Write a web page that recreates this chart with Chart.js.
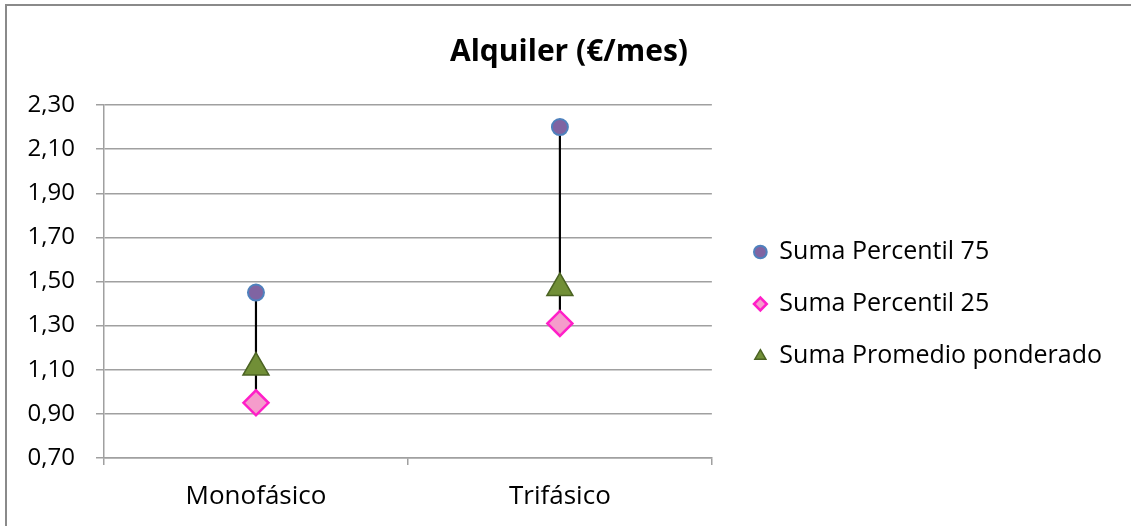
<!DOCTYPE html>
<html>
<head>
<meta charset="utf-8">
<script src="https://cdn.jsdelivr.net/npm/chart.js@4.4.0/dist/chart.umd.min.js"></script>
<style>
  html, body { margin: 0; padding: 0; background: #ffffff; }
  #wrap { position: relative; width: 1131px; height: 526px; overflow: hidden; }
  #frame { position: absolute; left: 5px; top: 4px; right: -10px; bottom: -10px;
           border-top: 2px solid #8a8a8a; border-left: 2px solid #8a8a8a; pointer-events: none; }
  canvas { position: absolute; left: 0; top: 0; }
</style>
</head>
<body>
<div id="wrap">
  <canvas id="chart" width="1131" height="526"></canvas>
  <div id="frame"></div>
</div>
<script>
// Categories and series values
const categories = ['Monofásico', 'Trifásico'];
const percentil75 = [1.45, 2.20];
const percentil25 = [0.95, 1.31];
const promedioPonderado = [1.11, 1.47];

// Y axis tick range
const yMin = 0.70;
const yMax = 2.30;
const yStep = 0.20;

const seriesNames = ['Suma Percentil 75', 'Suma Percentil 25', 'Suma Promedio ponderado'];

const FONT = '"Open Sans", "Noto Sans", sans-serif';

// High-low range from 25th to 75th percentile
const highLow = categories.map((_, i) => [percentil25[i], percentil75[i]]);

new Chart(document.getElementById('chart'), {
  data: {
    labels: categories,
    datasets: [
      {
        type: 'line',
        label: seriesNames[0],
        data: percentil75,
        showLine: false,
        pointStyle: 'circle',
        pointRadius: 8,
        pointBorderWidth: 2,
        backgroundColor: '#8064a2',
        borderColor: '#4f81bd',
        order: 1
      },
      {
        type: 'line',
        label: seriesNames[1],
        data: percentil25,
        showLine: false,
        pointStyle: 'rectRot',
        pointRadius: 12.5,
        pointBorderWidth: 2.5,
        backgroundColor: '#f59ccb',
        borderColor: '#ff1fc8',
        order: 2
      },
      {
        type: 'line',
        label: seriesNames[2],
        data: promedioPonderado,
        showLine: false,
        pointStyle: 'triangle',
        pointRadius: 15,
        pointBorderWidth: 1.5,
        backgroundColor: '#718f37',
        borderColor: '#4b6323',
        order: 0
      },
      {
        type: 'bar',
        label: 'range',
        data: highLow,
        backgroundColor: '#000000',
        barThickness: 1.5,
        grouped: false,
        order: 10
      }
    ]
  },
  options: {
    responsive: false,
    animation: false,
    events: [],
    layout: { padding: { left: 26, right: 19, top: 10, bottom: 0 } },
    plugins: {
      tooltip: { enabled: false },
      title: {
        display: true,
        text: 'Alquiler (€/mes)',
        color: '#000000',
        font: { family: FONT, size: 30, weight: 'bold', lineHeight: 1.2 },
        padding: { top: 24, bottom: 35 }
      },
      legend: {
        position: 'right',
        maxWidth: 440,
        title: {
          display: true,
          text: '',
          font: { size: 10, lineHeight: 1 },
          padding: { top: 31, bottom: 31 }
        },
        labels: {
          usePointStyle: true,
          boxWidth: 13,
          boxHeight: 9,
          padding: 27,
          color: '#000000',
          font: { family: FONT, size: 25 },
          filter: item => item.datasetIndex < 3,
          sort: (a, b) => a.datasetIndex - b.datasetIndex
        }
      }
    },
    scales: {
      x: {
        type: 'category',
        offset: true,
        grid: {
          offset: true,
          drawOnChartArea: false,
          drawTicks: true,
          tickLength: 7,
          color: '#a0a0a0',
          lineWidth: 1.5
        },
        border: { display: true, color: '#a0a0a0', width: 1.5 },
        ticks: {
          color: '#000000',
          padding: 16,
          font: { family: FONT, size: 26 }
        },
        afterFit: s => { s.height = 68; }
      },
      y: {
        type: 'linear',
        min: yMin,
        max: yMax,
        grid: {
          color: '#a0a0a0',
          lineWidth: 1.5,
          drawTicks: true,
          tickLength: 8
        },
        border: { display: true, color: '#a0a0a0', width: 1.5 },
        ticks: {
          stepSize: yStep,
          color: '#000000',
          padding: 21,
          font: { family: FONT, size: 24 },
          callback: v => v.toFixed(2).replace('.', ',')
        },
        afterFit: s => { s.width = 78; }
      },
      spacer: {
        type: 'linear',
        position: 'right',
        display: true,
        grid: { display: false },
        border: { display: false },
        ticks: { display: false },
        afterFit: s => { s.width = 15; }
      }
    }
  }
});
</script>
</body>
</html>
